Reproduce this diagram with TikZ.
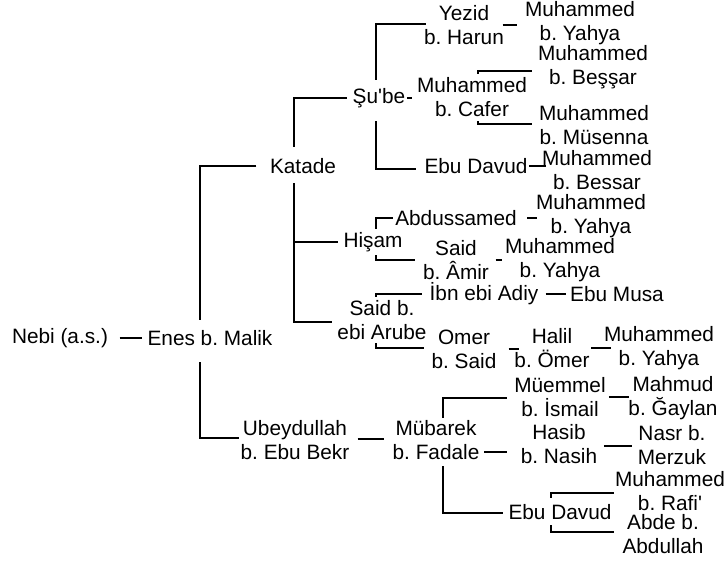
\documentclass[tikz,border=0pt]{standalone}
\usepackage{fontspec}
\setmainfont{Liberation Sans}[Ligatures=NoCommon]
\frenchspacing

\begin{document}
\begin{tikzpicture}[x=1pt, y=-1pt, line width=1.5pt,
    person/.style={align=center, inner sep=1pt, font=\fontsize{20.8}{24}\selectfont}]
    \useasboundingbox (0,0) rectangle (726,562);

    % Nebi and Enes
    \node[person] (nebi) at (60,338) {Nebi (a.s.)};
    \node[person] (enes) at (210,338) {Enes b. Malik};
    \draw ([xshift=10pt]nebi.east) -- ([xshift=-4pt]enes.west);

    % Katade branch
    \node[person] (katade) at (303,166) {Katade};
    \draw ([xshift=-12pt]katade.west) -| ([xshift=-10pt,yshift=9pt]enes.north);

    % Su'be
    \node[person] (sube) at (379,98) {Şu\textquotesingle be};
    \draw ([xshift=-4pt]sube.west) -| ([xshift=-9pt,yshift=10pt]katade.north);
    \node[person] (yezid) at (464,25) {Yezid\\b. Harun};
    \node[person] (muhA) at (580,23) {Muhammed\\b. Yahya};
    \node[person] (cafer) at (472,97) {Muhammed\\b. Cafer};
    \node[person] (bessarA) at (593,67) {Muhammed\\b. Beşşar};
    \node[person] (musenna) at (594,125) {Muhammed\\b. Müsenna};
    \node[person] (davudA) at (476,166) {Ebu Davud};
    \node[person] (bessarB) at (597,170) {Muhammed\\b. Bessar};
    \draw[shorten >=3pt] (sube.east) -- (sube.east -| cafer.west);
    \draw ([xshift=-3pt,yshift=7pt]sube.north) |- ([xshift=4pt,yshift=1pt]yezid.west);
    \draw ([xshift=-3pt,yshift=-12pt]sube.south) |- ([xshift=-7pt,yshift=-3pt]davudA.west);
    \draw[shorten <=-3pt, shorten >=6pt] (yezid.east) -- (yezid.east -| muhA.west);
    \draw ([xshift=6pt,yshift=2pt]cafer.north) |- ([xshift=-4pt,yshift=-4pt]bessarA.west);
    \draw ([xshift=6pt,yshift=-3pt]cafer.south) |- ([xshift=-5pt,yshift=1pt]musenna.west);
    \draw[shorten >=-6pt] (davudA.east) -- (davudA.east -| bessarB.west);

    % Hisam
    \node[person] (hisam) at (373,242) {Hişam};
    \node[person] (abdus) at (456,218) {Abdussamed};
    \node[person] (muhB) at (591,216) {Muhammed\\b. Yahya};
    \node[person] (amir) at (456,260) {Said\\b. Âmir};
    \node[person] (muhC) at (560,260) {Muhammed\\b. Yahya};
    \draw ([xshift=-9pt,yshift=-8pt]katade.south) |- ([xshift=-4pt]hisam.west);
    \draw ([xshift=3pt,yshift=2pt]hisam.north) |- ([xshift=-1pt]abdus.west);
    \draw ([xshift=3pt,yshift=-2pt]hisam.south) |- ([xshift=-6pt]amir.west);
    \draw[shorten <=9pt, shorten >=-3pt] (abdus.east) -- (abdus.east -| muhB.west);
    \draw[shorten <=5pt, shorten >=1pt] (amir.east) -- (amir.east -| muhC.west);

    % Said b. ebi Arube
    \node[person] (arube) at (382,320) {Said b.\\ebi Arube};
    \node[person] (adiy) at (484,294) {İbn ebi Adiy};
    \node[person] (musa) at (617,294) {Ebu Musa};
    \node[person] (omer) at (464,349) {Omer\\b. Said};
    \node[person] (halil) at (552,348) {Halil\\b. Ömer};
    \node[person] (muhD) at (659,348) {Muhammed\\b. Yahya};
    \draw ([xshift=-9pt,yshift=-8pt]katade.south) |- ([xshift=-4pt,yshift=-2pt]arube.west);
    \draw ([xshift=-6pt,yshift=2pt]arube.north) |- ([xshift=-6pt]adiy.west);
    \draw ([xshift=-6pt,yshift=-2pt]arube.south) |- ([xshift=-6pt,yshift=1pt]omer.west);
    \draw[shorten <=5.5pt, shorten >=2pt] (adiy.east) -- (adiy.east -| musa.west);
    \draw[shorten <=10.5pt, shorten >=-6.5pt] (omer.east) -- (omer.east -| halil.west);
    \draw[shorten >=-9pt] (halil.east) -- (halil.east -| muhD.west);

    % Ubeydullah branch
    \node[person] (ubeyd) at (295,440) {Ubeydullah\\b. Ebu Bekr};
    \draw ([xshift=-10pt,yshift=-15pt]enes.south) |- ([yshift=2pt]ubeyd.west);
    \node[person] (mubarek) at (436,440) {Mübarek\\b. Fadale};
    \draw[shorten <=6.5pt, shorten >=6.5pt] ([yshift=1pt]ubeyd.east) -- ([yshift=1pt]mubarek.west);
    \node[person] (muemmel) at (560,397) {Müemmel\\b. İsmail};
    \node[person] (mahmud) at (673,398) {Mahmud\\b. Ğaylan};
    \node[person] (hasib) at (559,444) {Hasib\\b. Nasih};
    \node[person] (nasr) at (672,445) {Nasr b.\\Merzuk};
    \node[person] (davudB) at (560,512) {Ebu Davud};
    \node[person] (rafi) at (670,491) {Muhammed\\b. Rafi\textquotesingle};
    \node[person] (abde) at (663,534) {Abde b.\\Abdullah};
    \draw ([xshift=7pt,yshift=1pt]mubarek.north) |- ([xshift=-6pt,yshift=-1pt]muemmel.west);
    \draw ([xshift=3pt,yshift=-12pt]mubarek.east) -- ([xshift=-12pt,yshift=-8pt]hasib.west);
    \draw ([xshift=7pt,yshift=-5pt]mubarek.south) |- ([xshift=-4pt,yshift=-1pt]davudB.west);
    \draw[shorten <=1.5pt, shorten >=-2.5pt] (muemmel.east) -- (muemmel.east -| mahmud.west);
    \draw[shorten <=5pt, shorten >=4pt] ([yshift=-2pt]hasib.east) -- ([yshift=-2pt]hasib.east -| nasr.west);
    \draw ([xshift=-9pt,yshift=5pt]davudB.north) |- ([xshift=1pt,yshift=-2pt]rafi.west);
    \draw ([xshift=-9pt,yshift=-4pt]davudB.south) |- ([xshift=-6.5pt,yshift=2pt]abde.west);

\end{tikzpicture}
\end{document}
